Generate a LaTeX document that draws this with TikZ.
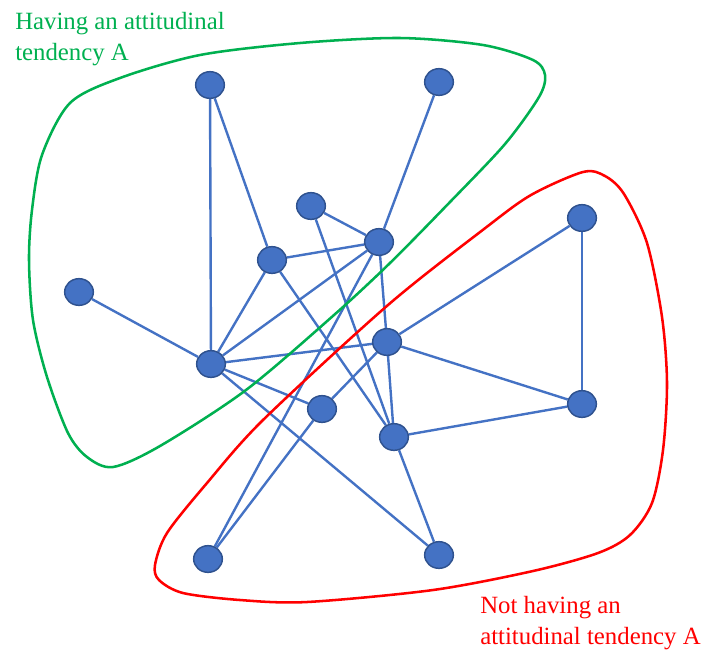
\documentclass[tikz,border=0pt]{standalone}
\usepackage{fontspec}
\setmainfont{Liberation Serif}
\usetikzlibrary{shapes.geometric}
\definecolor{nodefill}{HTML}{4472C4}
\definecolor{nodeborder}{HTML}{2F528F}
\definecolor{edgeblue}{HTML}{4472C4}
\definecolor{grp}{HTML}{00B050}
\definecolor{redc}{HTML}{FF0000}
\pgfdeclarelayer{background}
\pgfsetlayers{background,main}
\tikzset{
  agent/.style={ellipse, fill=nodefill, draw=nodeborder, line width=1.1pt,
    minimum width=21.5pt, minimum height=20pt, inner sep=0pt},
  tie/.style={draw=edgeblue, line width=1.8pt},
  grouploop/.style={line width=1.9pt},
  lbl/.style={anchor=base west, inner sep=0pt, align=left,
    font=\fontsize{18.6pt}{23.25pt}\selectfont}
}
\begin{document}
\begin{tikzpicture}[x=0.75pt,y=-0.75pt]
\useasboundingbox (0,0) rectangle (705,651);
% nodes
\node[agent] (A) at (210,85) {};
\node[agent] (B) at (439,82) {};
\node[agent] (C) at (311,206) {};
\node[agent] (D) at (379,242) {};
\node[agent] (E) at (272,260) {};
\node[agent] (F) at (79,292) {};
\node[agent] (G) at (582,218) {};
\node[agent] (H) at (387,342) {};
\node[agent] (I) at (211,364) {};
\node[agent] (J) at (322,409) {};
\node[agent] (K) at (582,404) {};
\node[agent] (L) at (394,437) {};
\node[agent] (M) at (208,559) {};
\node[agent] (N) at (439,555) {};
% edges
\begin{pgfonlayer}{background}
\draw[tie] (A) -- (I);
\draw[tie] (A) -- (E);
\draw[tie] (B) -- (D);
\draw[tie] (C) -- (D);
\draw[tie] (C) -- (L);
\draw[tie] (E) -- (D);
\draw[tie] (E) -- (I);
\draw[tie] (E) -- (L);
\draw[tie] (D) -- (I);
\draw[tie] (D) -- (H);
\draw[tie] (D) -- (M);
\draw[tie] (F) -- (I);
\draw[tie] (I) -- (H);
\draw[tie] (I) -- (J);
\draw[tie] (I) -- (N);
\draw[tie] (G) -- (H);
\draw[tie] (G) -- (K);
\draw[tie] (H) -- (K);
\draw[tie] (H) -- (L);
\draw[tie] (H) -- (J);
\draw[tie] (L) -- (K);
\draw[tie] (L) -- (N);
\draw[tie] (J) -- (M);
\end{pgfonlayer}
% group outlines
\draw[grouploop, draw=grp] plot[smooth cycle, tension=0.5] coordinates {
  (70,103) (120,78) (200,55) (300,43) (400,38) (483,45) (533,60) (545,75)
  (539,97) (505,144) (450,202) (390,263) (334,315) (246,390) (160,446)
  (113,467) (87,457) (68,433) (47,377) (33,320) (29,260) (32,210) (42,155) };
\draw[grouploop, draw=redc] plot[smooth cycle, tension=0.5] coordinates {
  (583,172) (605,176) (624,194) (647,243) (662,317) (667,383) (663,450)
  (652,503) (630,535) (598,553) (533,571) (433,590) (307,602) (240,600)
  (183,593) (159,580) (155,565) (167,533) (207,483) (263,420) (388,305)
  (484,229) (531,195) };
% labels
\node[lbl, text=grp] (tA) at (15,60) {Having an attitudinal\\tendency A};
\node[lbl, text=redc] (tN) at (480,644) {Not having an\\attitudinal tendency A};
\end{tikzpicture}
\end{document}
